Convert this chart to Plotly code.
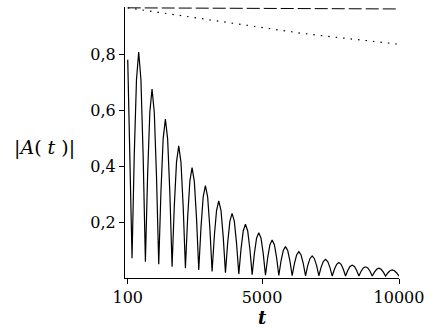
import plotly.graph_objects as go

# Solid curve |A(t)|
solid_t = [100, 178,
    257, 338, 419, 500, 582, 663,
    744, 825, 906, 987, 1069, 1150,
    1231, 1312, 1393, 1474, 1556, 1637,
    1718, 1799, 1880, 1961, 2043, 2124,
    2205, 2286, 2367, 2448, 2530, 2611,
    2692, 2773, 2854, 2935, 3017, 3098,
    3179, 3260, 3341, 3422, 3504, 3585,
    3666, 3747, 3828, 3909, 3991, 4072,
    4153, 4234, 4315, 4396, 4478, 4559,
    4640, 4721, 4802, 4883, 4965, 5046,
    5127, 5208, 5289, 5370, 5452, 5533,
    5614, 5695, 5776, 5857, 5939, 6020,
    6101, 6182, 6263, 6344, 6426, 6507,
    6588, 6669, 6750, 6831, 6913, 6994,
    7075, 7156, 7237, 7318, 7400, 7481,
    7562, 7643, 7724, 7805, 7887, 7968,
    8049, 8130, 8211, 8292, 8374, 8455,
    8536, 8617, 8698, 8779, 8861, 8942,
    9023, 9104, 9185, 9266, 9348, 9429,
    9510, 9591, 9672, 9753, 9835, 9916,
    10000]
solid_a = [0.780, 0.430,
    0.071, 0.439, 0.708, 0.807, 0.707, 0.433,
    0.058, 0.367, 0.592, 0.675, 0.591, 0.362,
    0.049, 0.309, 0.498, 0.568, 0.497, 0.304,
    0.040, 0.256, 0.414, 0.472, 0.413, 0.254,
    0.035, 0.215, 0.346, 0.394, 0.345, 0.212,
    0.029, 0.180, 0.290, 0.330, 0.289, 0.177,
    0.023, 0.149, 0.241, 0.275, 0.241, 0.147,
    0.019, 0.125, 0.203, 0.231, 0.202, 0.123,
    0.014, 0.103, 0.168, 0.192, 0.168, 0.102,
    0.012, 0.087, 0.142, 0.162, 0.142, 0.086,
    0.010, 0.073, 0.119, 0.136, 0.119, 0.073,
    0.009, 0.061, 0.098, 0.112, 0.098, 0.060,
    0.008, 0.051, 0.082, 0.094, 0.082, 0.051,
    0.008, 0.044, 0.069, 0.079, 0.069, 0.044,
    0.008, 0.038, 0.059, 0.067, 0.059, 0.037,
    0.007, 0.031, 0.049, 0.055, 0.049, 0.031,
    0.007, 0.027, 0.041, 0.046, 0.041, 0.027,
    0.007, 0.024, 0.036, 0.040, 0.036, 0.024,
    0.007, 0.021, 0.031, 0.035, 0.031, 0.021,
    0.007, 0.018, 0.026, 0.029, 0.026, 0.018,
    0.007]

# Dashed curve
dashed_t = [100, 5000, 10000]
dashed_a = [0.965, 0.963, 0.961]

# Dotted curve
dotted_t = [100, 1500, 2850, 3946, 5166, 6383, 7600, 8818, 10000]
dotted_a = [0.965, 0.945, 0.925, 0.908, 0.891, 0.875, 0.861, 0.849, 0.835]

x_tickvals = [100, 5000, 10000]
x_ticktext = ["100", "5000", "10000"]
y_tickvals = [0.2, 0.4, 0.6, 0.8]

FONT = "DejaVu Serif"

fig = go.Figure()
fig.add_trace(go.Scatter(x=dashed_t, y=dashed_a, mode="lines",
                         line=dict(color="black", width=1, dash="13px,4px")))
fig.add_trace(go.Scatter(x=dotted_t, y=dotted_a, mode="lines",
                         line=dict(color="black", width=1.2, dash="1.5px,6px")))
fig.add_trace(go.Scatter(x=solid_t, y=solid_a, mode="lines",
                         line=dict(color="black", width=1.2)))

fig.update_layout(
    width=436, height=327,
    margin=dict(l=125, r=37, t=7, b=49),
    paper_bgcolor="white", plot_bgcolor="white",
    showlegend=False,
    separators=",.",
    font=dict(family=FONT, size=16, color="black"),
    xaxis=dict(range=[0, 10000], showgrid=False, zeroline=False,
               showline=True, linecolor="black", linewidth=1,
               ticks="outside", ticklen=5, tickcolor="black",
               tickvals=x_tickvals, ticktext=x_ticktext,
               tickfont=dict(family=FONT, size=16), automargin=False),
    yaxis=dict(range=[0, 0.968], showgrid=False, zeroline=False,
               showline=True, linecolor="black", linewidth=1,
               ticks="outside", ticklen=5, tickcolor="black",
               tickvals=y_tickvals, tickformat=".1f",
               tickfont=dict(family=FONT, size=16), automargin=False),
    annotations=[
        dict(text="|<i>A</i>(\u00a0<i>t</i>\u00a0)|", xref="paper", yref="paper",
             x=-0.292, y=0.48, xanchor="center", yanchor="middle",
             showarrow=False, font=dict(family=FONT, size=19)),
        dict(text="<b><i>t</i></b>", xref="paper", yref="paper",
             x=0.5, y=-0.1, xanchor="center", yanchor="top",
             showarrow=False, font=dict(family=FONT, size=18)),
    ],
)

fig.write_html("out.html", config={"displayModeBar": False},
               post_script="document.body.style.margin='0';")
